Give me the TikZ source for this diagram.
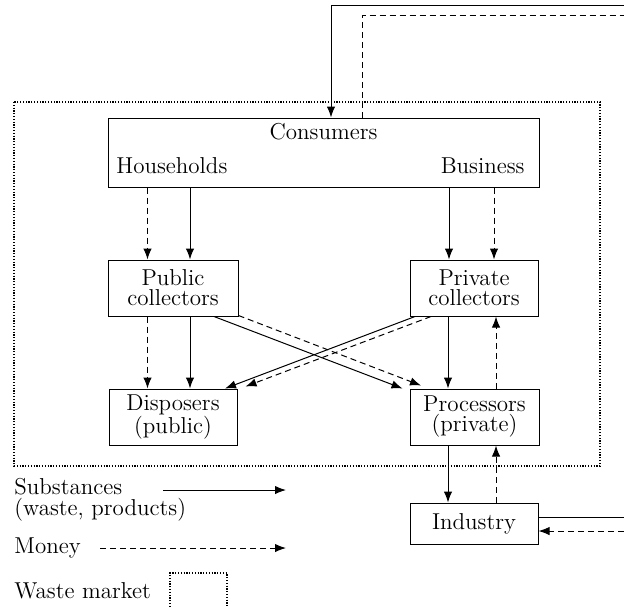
\documentclass[tikz,border=0pt]{standalone}
\usetikzlibrary{arrows.meta}
\begin{document}
\begin{tikzpicture}[x=0.5pt,y=-0.5pt,
  font=\fontsize{11.5}{10}\selectfont,
  box/.style={draw, line width=0.5pt, inner sep=0pt, align=center},
  plain/.style={draw, line width=0.5pt},
  sub/.style={plain, -{Latex[length=5.5pt,width=4.2pt]}},
  mon/.style={sub, dash pattern=on 3pt off 2pt},
  monline/.style={plain, dash pattern=on 3pt off 2pt},
  market/.style={draw, line width=0.6pt, dash pattern=on 0.6pt off 0.8pt},
  lbl/.style={inner sep=0pt}]
\useasboundingbox (0,0) rectangle (624,607);

% waste market frame
\draw[market] (14,102) rectangle (600,466);

% nodes
\node[box, minimum width=215.5pt, minimum height=34.5pt] (cons) at (323.5,152.5) {};
\node[lbl, anchor=base] (consT) at (323.5,139) {Consumers};
\node[lbl, anchor=base west] (hh) at (116,173) {Households};
\node[lbl, anchor=base east] (bus) at (525,173) {Business};

\node[box, minimum width=65pt, minimum height=28pt] (pub) at (173,288) {Public\\collectors};
\node[box, minimum width=64pt, minimum height=28pt] (priv) at (474,288) {Private\\collectors};
\node[box, minimum width=64pt, minimum height=28pt] (disp) at (173,417) {Disposers\\(public)};
\node[box, minimum width=64.5pt, minimum height=28pt] (proc) at (474.5,417) {Processors\\(private)};
\node[box, minimum width=64pt, minimum height=20.5pt] (ind) at (474,523.5) {Industry};

% x positions of vertical connectors
\coordinate (xa) at (147.5,0);
\coordinate (xb) at (190,0);
\coordinate (xc) at (449,0);
\coordinate (xd) at (494,0);
\coordinate (xe) at (448,0);
\coordinate (xf) at (496,0);

% consumers -> collectors
\draw[mon] (cons.south -| xa) -- (pub.north -| xa);
\draw[sub] (cons.south -| xb) -- (pub.north -| xb);
\draw[sub] (cons.south -| xc) -- (priv.north -| xc);
\draw[mon] (cons.south -| xd) -- (priv.north -| xd);

% collectors -> disposers / processors
\draw[mon] (pub.south -| xa) -- (disp.north -| xa);
\draw[sub] (pub.south -| xb) -- (disp.north -| xb);
\draw[sub] (priv.south -| xe) -- (proc.north -| xe);
\draw[mon] (proc.north -| xf) -- (priv.south -| xf);

% crossing connectors
\draw[sub] ([xshift=20.5pt]pub.south) -- ([xshift=-36pt]proc.north);
\draw[mon] ([yshift=0.5pt]pub.south east) -- ([xshift=-26.75pt,yshift=1.5pt]proc.north);
\draw[sub] ([xshift=-29.5pt]priv.south) -- ([xshift=26pt]disp.north);
\draw[mon] ([xshift=-21.5pt]priv.south) -- ([xshift=4pt,yshift=1pt]disp.north east);

% processors <-> industry
\draw[sub] (proc.south -| xe) -- (ind.north -| xe);
\draw[mon] (ind.north -| xf) -- (proc.south -| xf);

% outside loop
\coordinate (ctop) at (624,5);
\coordinate (mtop) at (624,15);
\coordinate (isub) at (624,517);
\coordinate (imon) at (624,531);
\draw[sub] (ctop) -| ([xshift=3.75pt]cons.north);
\draw[monline] ([xshift=19.25pt]cons.north) |- (mtop);
\draw[plain] (ind.east |- isub) -- (isub);
\draw[mon] (imon) -- (ind.east |- imon);

% legend
\node[lbl, anchor=base west] (lsub) at (14,494) {Substances};
\node[lbl, anchor=base west] (lsub2) at (14,515) {(waste, products)};
\coordinate (ls1) at (163,490);
\coordinate (ls2) at (286,490);
\draw[sub] (ls1) -- (ls2);
\node[lbl, anchor=base west] (lmon) at (14,553) {Money};
\coordinate (lm1) at (100,548);
\coordinate (lm2) at (286,548);
\draw[mon] (lm1) -- (lm2);
\node[lbl, anchor=base west] (lmk) at (14,598) {Waste market};
\draw[market] (170,607) -- (170,573) -- (227,573) -- (227,607);
\end{tikzpicture}
\end{document}
